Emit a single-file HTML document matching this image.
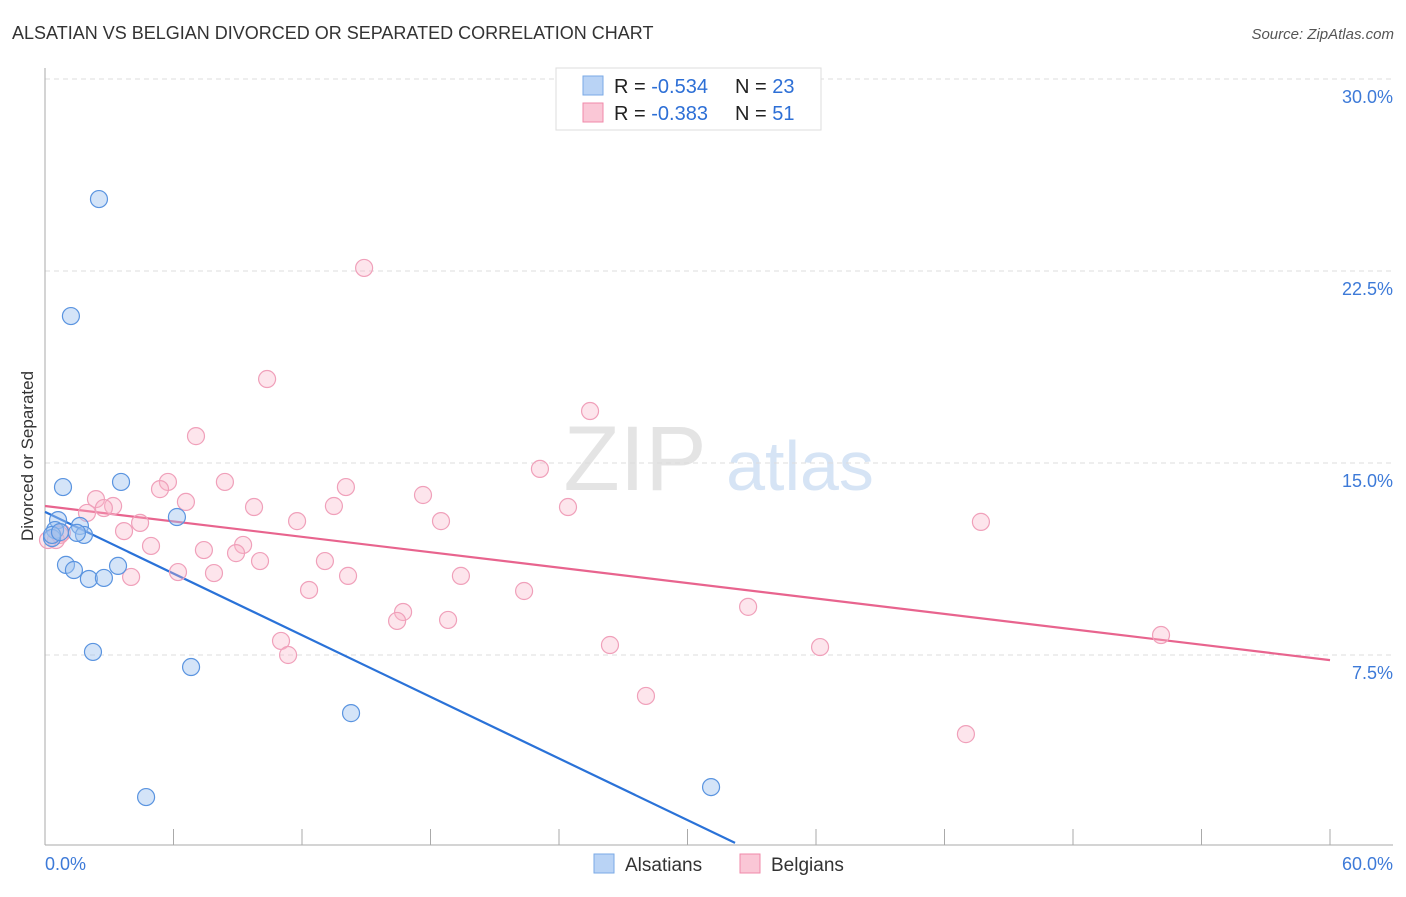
<!DOCTYPE html>
<html><head><meta charset="utf-8"><style>
body{margin:0;background:#fff;font-family:"Liberation Sans",sans-serif;}
svg text{font-family:"Liberation Sans",sans-serif;}
</style></head><body>
<svg id="chart" width="1406" height="892">
<text x="12" y="39" font-size="18" fill="#333">ALSATIAN VS BELGIAN DIVORCED OR SEPARATED CORRELATION CHART</text>
<text x="1394" y="39" font-size="15" fill="#555" text-anchor="end" font-style="italic">Source: ZipAtlas.com</text>
<text transform="translate(33,456) rotate(-90)" font-size="17" fill="#333" text-anchor="middle">Divorced or Separated</text>
<g><text x="635" y="490" font-size="92" fill="#e4e4e4" text-anchor="middle" font-family="Liberation Serif,serif">ZIP</text><text x="800" y="490" font-size="70" fill="#d6e4f5" text-anchor="middle">atlas</text></g>
<g id="grid"></g><g id="axes"></g><g id="lines"></g><g id="pts"></g>
<g>
<rect x="556" y="68" width="265" height="62" fill="#fff" stroke="#ddd"/>
<rect x="583" y="76" width="20" height="19" fill="#b9d3f5" stroke="#7aaae6"/>
<rect x="583" y="103" width="20" height="19" fill="#fac7d6" stroke="#f08aaa"/>
<text x="614" y="93" font-size="20" fill="#222">R = <tspan fill="#2d6fd6">-0.534</tspan></text>
<text x="735" y="93" font-size="20" fill="#222">N = <tspan fill="#2d6fd6">23</tspan></text>
<text x="614" y="120" font-size="20" fill="#222">R = <tspan fill="#2d6fd6">-0.383</tspan></text>
<text x="735" y="120" font-size="20" fill="#222">N = <tspan fill="#2d6fd6"> 51</tspan></text>
</g>
<g>
<rect x="594" y="854" width="20" height="19" fill="#b9d3f5" stroke="#7aaae6"/>
<text x="625" y="871" font-size="19" fill="#333">Alsatians</text>
<rect x="740" y="854" width="20" height="19" fill="#fac7d6" stroke="#f08aaa"/>
<text x="771" y="871" font-size="19" fill="#333">Belgians</text>
</g>
</svg>
<script>
const blueX=[2.52,1.21,0.84,3.55,6.16,0.61,1.63,0.47,1.82,1.49,0.33,0.98,1.35,2.05,2.75,3.41,2.24,6.82,14.29,4.72,31.10,0.33,0.70];
const blueY=[25.31,20.74,14.06,14.26,12.89,12.77,12.54,12.38,12.19,12.27,12.07,11.02,10.82,10.47,10.51,10.98,7.62,7.03,5.23,1.95,2.34,12.19,12.30];
const pinkX=[14.90,10.37,7.05,25.45,23.11,5.74,8.40,5.37,14.05,2.38,6.58,3.18,2.75,9.76,13.49,17.65,24.42,1.96,4.44,11.77,18.49,43.70,3.69,0.79,0.51,0.14,4.95,9.25,7.42,8.92,10.04,13.07,6.21,7.89,4.02,14.15,19.42,12.33,22.37,16.72,16.44,18.82,32.83,11.02,26.38,36.19,52.11,11.35,28.06,43.00,0.70];
const pinkY=[22.62,18.28,16.05,17.03,14.77,14.26,14.26,13.98,14.06,13.59,13.48,13.32,13.24,13.28,13.32,13.75,13.28,13.05,12.66,12.73,12.73,12.70,12.34,12.27,11.99,11.99,11.76,11.80,11.60,11.48,11.17,11.17,10.74,10.70,10.55,10.59,10.59,10.04,10.00,9.18,8.83,8.87,9.38,8.05,7.89,7.81,8.28,7.50,5.90,4.41,12.19];
const blueTrend=[[0,13.09],[32.22,0.16]];
const pinkTrend=[[0,13.32],[60,7.30]];
const yTicks=[7.5,15,22.5,30];
const yTickLabels=["7.5%","15.0%","22.5%","30.0%"];
const xTicks=[0,6,12,18,24,30,36,42,48,54,60];
const xs=v=>45+v/60*1285, ys=v=>847-v*25.6;
const NS="http://www.w3.org/2000/svg";
function mk(p,t,a){const e=document.createElementNS(NS,t);for(const k in a)e.setAttribute(k,a[k]);document.getElementById(p).appendChild(e);return e;}
yTicks.forEach((t,i)=>{
 const l=mk('grid','line',{x1:45,x2:1393,y1:ys(t),y2:ys(t),stroke:'#ddd','stroke-dasharray':'5,4'});
 
 
 const tx=mk('grid','text',{x:1393,y:ys(t)+24,'font-size':18,fill:'#3d7ad8','text-anchor':'end'});tx.textContent=yTickLabels[i];
 
 
});
let a=mk('axes','line',{x1:45,x2:45,y1:68,y2:845,stroke:'#aaa'});


a=mk('axes','line',{x1:45,x2:1393,y1:845,y2:845,stroke:'#aaa'});


xTicks.slice(1).forEach(t=>{const l=mk('axes','line',{x1:xs(t),x2:xs(t),y1:829,y2:845,stroke:'#aaa'});
 
 });
let t0=mk('axes','text',{x:45,y:870,'font-size':18,fill:'#3d7ad8'});t0.textContent=xTicks[0].toFixed(1)+'%';


let t1=mk('axes','text',{x:1393,y:870,'font-size':18,fill:'#3d7ad8','text-anchor':'end'});t1.textContent=xTicks[xTicks.length-1].toFixed(1)+'%';


function dots(X,Y,f,s,n){X.forEach((x,i)=>{const c=mk('pts','circle',{cx:xs(x),cy:ys(Y[i]),r:8.5,fill:f,stroke:s,'stroke-width':1.2});
 
 });}
dots(pinkX,pinkY,'rgba(248,180,200,0.35)','#f0a0ba','belgian-point');
dots(blueX,blueY,'rgba(160,195,240,0.45)','#5a94e0','alsatian-point');
let bl=mk('lines','line',{x1:xs(blueTrend[0][0]),y1:ys(blueTrend[0][1]),x2:xs(blueTrend[1][0]),y2:ys(blueTrend[1][1]),stroke:'#2a72d8','stroke-width':2.2});


let pl=mk('lines','line',{x1:xs(pinkTrend[0][0]),y1:ys(pinkTrend[0][1]),x2:xs(pinkTrend[1][0]),y2:ys(pinkTrend[1][1]),stroke:'#e8648e','stroke-width':2.2});


</script>
</body></html>
